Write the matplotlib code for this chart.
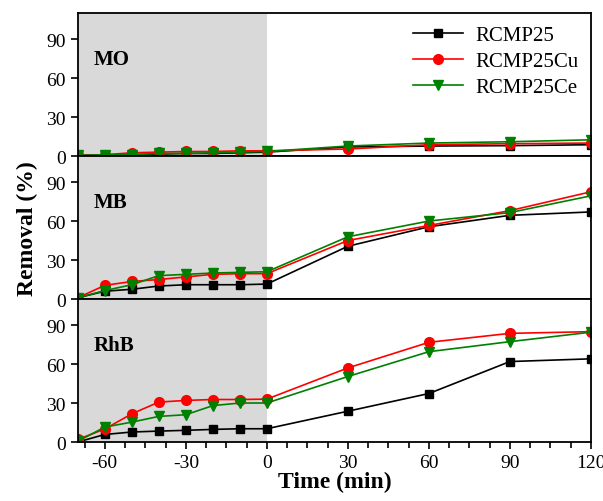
import matplotlib.pyplot as plt
import numpy as np

plt.rcParams['font.family'] = ['Liberation Serif', 'DejaVu Serif']
plt.rcParams['axes.unicode_minus'] = False

time = [-70, -60, -50, -40, -30, -20, -10, 0, 30, 60, 90, 120]

mo_rcmp25 = [0.5, 1, 1, 1.5, 2, 2, 2.5, 3, 7, 7.7, 8, 8.7]
mo_cu = [0.5, 1, 2.5, 3, 3.5, 3.5, 4, 4, 5.4, 8.7, 9.5, 10]
mo_ce = [0.5, 1, 1, 2, 2, 2.5, 3, 3.5, 7.7, 10, 11, 12.5]

mb_rcmp25 = [1, 6, 7.5, 10, 11, 11, 11, 11.5, 40.6, 55.6, 64.4, 67]
mb_cu = [1, 10.5, 13.5, 15, 17, 19, 19.5, 19.5, 45, 56.6, 68, 82.5]
mb_ce = [1, 6.5, 11, 18, 19, 20, 20.5, 21, 47.9, 60, 66.5, 79.4]

rhb_rcmp25 = [0, 5.8, 7.7, 8.4, 9, 9.7, 10.2, 10.2, 23.7, 37.3, 61.9, 64]
rhb_cu = [2, 10, 21.7, 30.7, 32, 32.7, 32.7, 33, 57, 76.7, 83.6, 84.9]
rhb_ce = [0.5, 11.5, 15.3, 19.7, 21, 28, 30, 30, 50.4, 69.5, 77.2, 84.5]

major_x = [-60, -30, 0, 30, 60, 90, 120]
minor_x = [-67.5, -52.5, -45, -37.5, -22.5, -15, -7.5, 7.5, 15, 22.5,
           37.5, 45, 52.5, 67.5, 75, 82.5, 97.5, 105, 112.5]

panels = [
    ('MO', mo_rcmp25, mo_cu, mo_ce),
    ('MB', mb_rcmp25, mb_cu, mb_ce),
    ('RhB', rhb_rcmp25, rhb_cu, rhb_ce),
]

fig, axes = plt.subplots(3, 1, figsize=(6.03, 5.02), dpi=100)
fig.subplots_adjust(left=0.129, right=0.980, bottom=0.1175, top=0.972, hspace=0)

for i, (name, a, b, c) in enumerate(panels):
    ax = axes[i]
    ax.axvspan(-70, 0, color='#d9d9d9', lw=0, zorder=0)
    ax.plot(time, a, '-s', color='black', ms=6, lw=1.2, label='RCMP25')
    ax.plot(time, b, '-o', color='red', ms=7, lw=1.2, label='RCMP25Cu')
    ax.plot(time, c, '-v', color='green', ms=7, lw=1.2, label='RCMP25Ce')
    ax.set_xlim(-70, 120)
    ax.set_ylim(0, 110)
    ax.set_yticks([0, 30, 60, 90])
    ax.tick_params(axis='y', labelsize=14, direction='out', length=5, width=1.2)
    ax.text(0.03, 0.68, name, transform=ax.transAxes, fontsize=15,
            fontweight='bold', va='center')
    for s in ax.spines.values():
        s.set_linewidth(1.3)
    if i < 2:
        ax.set_xticks([])

ax = axes[2]
ax.set_xticks(major_x)
ax.set_xticks(minor_x, minor=True)
ax.tick_params(axis='x', which='major', labelsize=14, direction='out', length=5, width=1.2)
ax.tick_params(axis='x', which='minor', direction='out', length=4, width=1.2)
ax.set_xlabel('Time (min)', fontsize=17, fontweight='bold', labelpad=0)

axes[0].legend(loc='upper right', frameon=False, fontsize=15,
               handlelength=2.4, labelspacing=0.3, borderaxespad=0.2,
               handletextpad=0.6)

fig.text(0.045, 0.545, 'Removal (%)', rotation=90, fontsize=17,
         fontweight='bold', va='center', ha='center')

fig.savefig('out.png')
